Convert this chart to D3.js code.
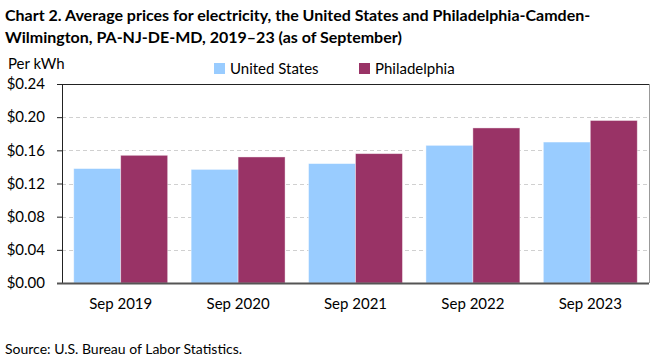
<!DOCTYPE html>
<html><head><meta charset="utf-8">
<script src="https://cdn.jsdelivr.net/npm/d3@7"></script>
<style>body{margin:0;background:#fff}svg{display:block}text{font-family:Lato,"Open Sans",sans-serif;fill:#000}</style>
</head><body><svg id="c" width="661" height="359"></svg>
<script>
const categories = ["Sep 2019","Sep 2020","Sep 2021","Sep 2022","Sep 2023"];
const seriesNames = ["United States","Philadelphia"];
const usValues = [0.138,0.137,0.144,0.166,0.170];
const phlValues = [0.154,0.152,0.156,0.187,0.196];
const yTicks = [0,0.04,0.08,0.12,0.16,0.20,0.24];
const colors = ["#99CCFF","#993366"];
const titleLines = ["Chart 2. Average prices for electricity, the United States and Philadelphia-Camden-","Wilmington, PA-NJ-DE-MD, 2019\u201323 (as of September)"];

const svg = d3.select("#c");
const L=62,R=649,T=84,B=283;
const x = d3.scaleBand().domain(categories).range([L,R]).paddingInner(0.2).paddingOuter(0.1);
const xs = d3.scaleBand().domain(seriesNames).range([0,x.bandwidth()]);
const y = d3.scaleLinear().domain([0,0.24]).range([B,T]);

// title
svg.selectAll("text.title").data(titleLines).join("text").attr("class","title")
  .attr("x",5).attr("y",(d,i)=>21+i*22).style("font-weight","bold").style("font-size","16px").text(d=>d);

// grid
svg.append("g").selectAll("line").data(yTicks.filter(d=>d>0&&d<0.24)).join("line")
  .attr("x1",L).attr("x2",R).attr("y1",d=>Math.round(y(d))+0.5).attr("y2",d=>Math.round(y(d))+0.5)
  .attr("stroke","#d0d0d0").attr("stroke-dasharray","4,3");
// frame top & right
svg.append("line").attr("x1",L).attr("x2",R).attr("y1",T+0.5).attr("y2",T+0.5).attr("stroke","#222");
svg.append("line").attr("x1",R+0.5).attr("x2",R+0.5).attr("y1",T).attr("y2",B).attr("stroke","#999");

// bars
const data = categories.map((c,i)=>({c,vals:[usValues[i],phlValues[i]]}));
const g = svg.append("g").selectAll("g").data(data).join("g").attr("transform",d=>`translate(${x(d.c)},0)`);
g.selectAll("rect").data(d=>d.vals.map((v,j)=>({v,s:seriesNames[j],j}))).join("rect")
  .attr("x",d=>xs(d.s)).attr("width",xs.bandwidth()).attr("y",d=>y(d.v)).attr("height",d=>B-y(d.v))
  .attr("fill",d=>colors[d.j]).attr("stroke","#fff").attr("stroke-opacity",0.5).attr("stroke-width",0.8);

// y axis
const ya = svg.append("g").attr("transform",`translate(${L},0)`)
  .call(d3.axisLeft(y).tickValues(yTicks).tickFormat(d=>"$"+d.toFixed(2)).tickSize(5).tickSizeOuter(0));
ya.select(".domain").attr("stroke","#222");
ya.selectAll(".tick line").attr("stroke","#222");
ya.selectAll(".tick text").attr("x",-17).style("font-size","15px").style("font-family","Lato");
// x axis
const xa = svg.append("g").attr("transform",`translate(0,${B})`)
  .call(d3.axisBottom(x).tickSize(0).tickSizeOuter(0));
xa.select(".domain").remove();
xa.selectAll(".tick text").attr("dy","1.5em").style("font-size","15px").style("font-family","Lato");
svg.append("line").attr("x1",L-5).attr("x2",R).attr("y1",B+0.5).attr("y2",B+0.5).attr("stroke","#555").attr("stroke-width",2);

// y label
svg.append("text").attr("x",8).attr("y",69).style("font-size","15px").text("Per kWh");

// legend
const lx=[214,359];
seriesNames.forEach((s,i)=>{
  svg.append("rect").attr("x",lx[i]).attr("y",63).attr("width",11).attr("height",11).attr("fill",colors[i]);
  svg.append("text").attr("x",lx[i]+16).attr("y",74).style("font-size","15px").text(s);
});

// source
svg.append("text").attr("x",5).attr("y",354).style("font-size","14px").text("Source: U.S. Bureau of Labor Statistics.");
</script></body></html>
